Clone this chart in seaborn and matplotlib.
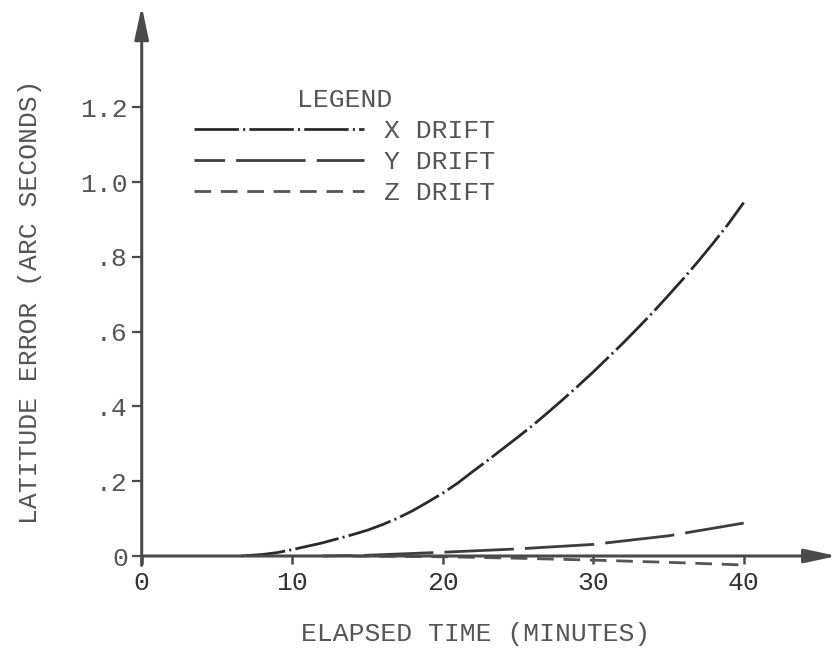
import matplotlib
matplotlib.use("Agg")
import matplotlib.pyplot as plt
import seaborn as sns
import pandas as pd

# ---- data ----
x_time = [6.6, 8, 9, 10, 11, 12, 13, 14, 15, 16, 17, 18, 19, 20, 21, 22, 23, 24,
          25, 26, 27, 28, 29, 30, 31, 32, 33, 34, 35, 36, 37, 38, 39, 40]
x_drift = [0.0, 0.004, 0.009, 0.017, 0.026, 0.035, 0.046, 0.057, 0.069, 0.084,
           0.101, 0.121, 0.144, 0.168, 0.195, 0.226, 0.256, 0.287, 0.318, 0.350,
           0.384, 0.419, 0.455, 0.492, 0.531, 0.570, 0.611, 0.653, 0.697, 0.742,
           0.789, 0.838, 0.889, 0.945]

y_time = [12, 15, 20, 25, 30, 35, 40]
y_drift = [0.0, 0.002, 0.010, 0.019, 0.031, 0.054, 0.088]

z_time = [14, 20, 25, 30, 35, 40]
z_drift = [0.0, -0.002, -0.006, -0.011, -0.017, -0.024]

x_ticks = [0, 10, 20, 30, 40]
x_ticklabels = ["0", "10", "20", "30", "40"]
y_ticks = [0, 0.2, 0.4, 0.6, 0.8, 1.0, 1.2]
y_ticklabels = ["0", ".2", ".4", ".6", ".8", "1.0", "1.2"]

series_labels = ["X DRIFT", "Y DRIFT", "Z DRIFT"]

# ---- style ----
sns.set_style("white")
plt.rcParams["font.family"] = ["Liberation Mono", "DejaVu Sans Mono"]
plt.rcParams["lines.scale_dashes"] = False
TXT = "#555555"
FS = 19

fig = plt.figure(figsize=(8.33, 6.53), dpi=100)
W, H = 833, 653
x0_px, y0_px = 141.7, 556.0
px_per_x = 15.05
px_per_y = 374.0
xlim = (0, 45.9)
ylim = (-0.10, 1.47)
left = x0_px / W
width = (xlim[1] - xlim[0]) * px_per_x / W
bottom_px = y0_px + (0 - ylim[0]) * px_per_y
bottom = (H - bottom_px) / H
height = (ylim[1] - ylim[0]) * px_per_y / H
ax = fig.add_axes([left, bottom, width, height])
ax.set_xlim(*xlim)
ax.set_ylim(*ylim)

dfx = pd.DataFrame({"t": x_time, "v": x_drift})
dfy = pd.DataFrame({"t": y_time, "v": y_drift})
dfz = pd.DataFrame({"t": z_time, "v": z_drift})

sns.lineplot(data=dfx, x="t", y="v", ax=ax, color="#2a2a2a", lw=2.0,
             linestyle=(0, (32, 3, 1.5, 3)), label=series_labels[0])
sns.lineplot(data=dfy, x="t", y="v", ax=ax, color="#3d3d3d", lw=2.0,
             linestyle=(28, (50, 8)), label=series_labels[1])
sns.lineplot(data=dfz, x="t", y="v", ax=ax, color="#555555", lw=2.0,
             linestyle=(0, (12, 7)), label=series_labels[2])

# axes as arrows
for s in ax.spines.values():
    s.set_visible(False)
ax.spines["bottom"].set_position(("data", 0))
ax.spines["left"].set_position(("data", 0))
ax.annotate("", xy=(46.2, 0), xytext=(0, 0),
            arrowprops=dict(arrowstyle="-|>,head_length=1.4,head_width=0.3",
                            color="#4a4a4a", lw=2.2, mutation_scale=14,
                            shrinkA=0, shrinkB=0), annotation_clip=False)
ax.annotate("", xy=(0, 1.47), xytext=(0, -0.025),
            arrowprops=dict(arrowstyle="-|>,head_length=1.4,head_width=0.3",
                            color="#4a4a4a", lw=2.2, mutation_scale=14,
                            shrinkA=0, shrinkB=0), annotation_clip=False)

ax.set_xticks(x_ticks)
ax.set_xticklabels(x_ticklabels)
ax.set_yticks(y_ticks)
ax.set_yticklabels(y_ticklabels)
ax.tick_params(axis="x", direction="out", length=6, width=1.8, color="#4a4a4a",
               pad=5, labelsize=FS, labelcolor="#333333", bottom=True)
ax.tick_params(axis="y", direction="out", length=7, width=1.6, color="#4a4a4a",
               pad=3, labelsize=FS, labelcolor=TXT, left=True)
ax.set_xlabel("")
ax.set_ylabel("")
ax.grid(False)

fig.text(476 / W, 1 - 634 / H, "ELAPSED TIME (MINUTES)", ha="center", va="center",
         fontsize=FS, color=TXT)
fig.text(30 / W, 1 - 302 / H, "LATITUDE ERROR (ARC SECONDS)", ha="center",
         va="center", rotation=90, fontsize=FS, color=TXT)

leg = ax.legend(title="LEGEND", loc="upper left",
                bbox_to_anchor=(194 / W, 1 - 88 / H),
                bbox_transform=fig.transFigure, frameon=False,
                fontsize=FS, title_fontsize=FS, handlelength=6.45,
                handletextpad=0.75, labelspacing=0.27, borderpad=0,
                borderaxespad=0)
for t in leg.get_texts():
    t.set_color(TXT)
leg.get_title().set_color(TXT)

fig.savefig("out.png", dpi=100)
